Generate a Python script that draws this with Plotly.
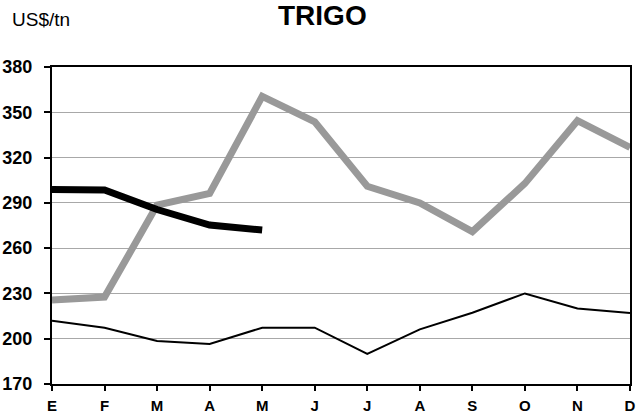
import plotly.graph_objects as go

months = ["E", "F", "M", "A", "M", "J", "J", "A", "S", "O", "N", "D"]
x_pos = list(range(12))
gray_series = [225.6, 227.6, 288.5, 296.3, 360.5, 343.7, 301.0, 290.0, 270.9, 302.9, 344.4, 326.7]
black_thick = [298.9, 298.5, 285.6, 275.3, 272.0]
thin_series = [211.9, 207.3, 198.5, 196.5, 207.3, 207.3, 189.9, 206.2, 217.2, 230.0, 220.0, 217.0]
y_ticks = [170, 200, 230, 260, 290, 320, 350, 380]

font_family = "Arial, Liberation Sans, sans-serif"

W, H = 637, 420
ML, MR, MT, MB = 52, 7, 67, 36

fig = go.Figure()
fig.add_trace(go.Scatter(x=x_pos, y=thin_series, mode="lines",
                         line=dict(color="#000000", width=2), showlegend=False))
fig.add_trace(go.Scatter(x=x_pos, y=gray_series, mode="lines",
                         line=dict(color="#999999", width=7), showlegend=False))
fig.add_trace(go.Scatter(x=x_pos[:len(black_thick)], y=black_thick, mode="lines",
                         line=dict(color="#000000", width=7), showlegend=False))

pw = W - ML - MR
ph = H - MT - MB
def px_to_paper(px, py):
    return (px - ML) / pw, (H - MB - py) / ph

tx, ty = px_to_paper(322, 16)
ux, uy = px_to_paper(41, 19)

fig.update_layout(
    width=W, height=H,
    margin=dict(l=ML, r=MR, t=MT, b=MB, autoexpand=False),
    paper_bgcolor="white", plot_bgcolor="white",
    font=dict(family=font_family, color="black"),
    xaxis=dict(
        range=[0, 11], tickmode="array", tickvals=x_pos, ticktext=months,
        tickfont=dict(size=15, family=font_family, weight="bold"),
        showline=True, linecolor="black", linewidth=2, mirror=True,
        ticks="outside", ticklen=5, tickcolor="black", tickwidth=1.5,
        ticklabelstandoff=2,
        showgrid=False, zeroline=False,
    ),
    yaxis=dict(
        range=[170, 380], tickmode="array", tickvals=y_ticks,
        tickfont=dict(size=18, family=font_family, weight="bold"),
        showline=True, linecolor="black", linewidth=2, mirror=True,
        ticks="outside", ticklen=6, tickcolor="black", tickwidth=1.5,
        ticklabelstandoff=8,
        showgrid=True, gridcolor="#a8a8a8", gridwidth=1, zeroline=False,
    ),
    annotations=[
        dict(text="<b>TRIGO</b>", x=tx, y=ty, xref="paper", yref="paper",
             xanchor="center", yanchor="middle",
             showarrow=False, font=dict(size=28, family=font_family)),
        dict(text="US$/tn", x=ux, y=uy, xref="paper", yref="paper",
             xanchor="center", yanchor="middle",
             showarrow=False, font=dict(size=19, family=font_family)),
    ],
)

fig.write_html("out.html", config={"displayModeBar": False},
               post_script="document.body.style.margin='0';")
